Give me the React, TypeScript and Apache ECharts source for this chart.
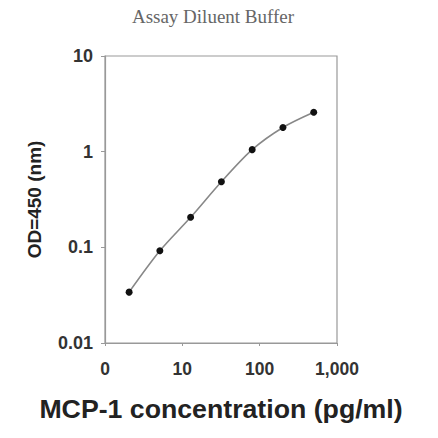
import React, { useRef, useEffect } from 'react';
import * as echarts from 'echarts';

// MCP-1 standard curve, 2.5-fold dilutions
const concentrations = [2.05, 5.12, 12.8, 32, 80, 200, 500];
const odValues = [0.034, 0.092, 0.206, 0.485, 1.05, 1.79, 2.58];
const xTickLabels: Record<number, string> = { 1: '0', 10: '10', 100: '100', 1000: '1,000' };

const labelFont = '"Liberation Sans", Arial, sans-serif';

export default function App() {
  const chartRef = useRef<HTMLDivElement>(null);

  useEffect(() => {
    if (!chartRef.current) return;
    document.body.style.margin = '0';
    const chart = echarts.init(chartRef.current, undefined, { renderer: 'svg' });

    const option: echarts.EChartsOption = {
      animation: false,
      backgroundColor: '#fff',
      title: {
        text: 'Assay Diluent Buffer',
        left: 208,
        top: 2,
        textAlign: 'center',
        textStyle: { fontFamily: '"Liberation Serif", serif', fontSize: 19, fontWeight: 'normal', color: '#666' },
      },
      grid: { left: 105, top: 56, right: 101, bottom: 95, show: true, borderColor: '#999', borderWidth: 1.2 },
      xAxis: {
        type: 'log',
        logBase: 10,
        min: 1,
        max: 1000,
        name: 'MCP-1 concentration (pg/ml)',
        nameLocation: 'middle',
        nameGap: 52,
        nameTextStyle: { fontFamily: labelFont, fontSize: 26.7, fontWeight: 'bold', color: '#222' },
        axisLine: { lineStyle: { color: '#999', width: 1.2 } },
        axisTick: { show: true, length: 3, lineStyle: { color: '#999' } },
        minorTick: { show: false },
        splitLine: { show: false },
        axisLabel: {
          margin: 17,
          fontFamily: labelFont,
          fontSize: 17.5,
          fontWeight: 'bold',
          color: '#333',
          formatter: (v: number) => xTickLabels[Math.round(v)] ?? String(v),
        },
      },
      yAxis: {
        type: 'log',
        logBase: 10,
        min: 0.01,
        max: 10,
        name: 'OD=450 (nm)',
        nameLocation: 'middle',
        nameGap: 61,
        nameTextStyle: { fontFamily: labelFont, fontSize: 19, fontWeight: 'bold', color: '#222' },
        axisLine: { lineStyle: { color: '#999', width: 1.2 } },
        axisTick: { show: true, length: 4, lineStyle: { color: '#999' } },
        splitLine: { show: false },
        axisLabel: {
          margin: 12,
          fontFamily: labelFont,
          fontSize: 18,
          fontWeight: 'bold',
          color: '#333',
          formatter: (v: number) => String(Number(v.toPrecision(2))),
        },
      },
      series: [
        {
          type: 'line',
          data: concentrations.map((c, i) => [c, odValues[i]]),
          smooth: 0.3,
          symbol: 'circle',
          symbolSize: 7,
          itemStyle: { color: '#111' },
          lineStyle: { color: '#888', width: 1.6 },
        },
      ],
    };

    chart.setOption(option);
    return () => chart.dispose();
  }, []);

  return <div ref={chartRef} style={{ width: 438, height: 438 }} />;
}
